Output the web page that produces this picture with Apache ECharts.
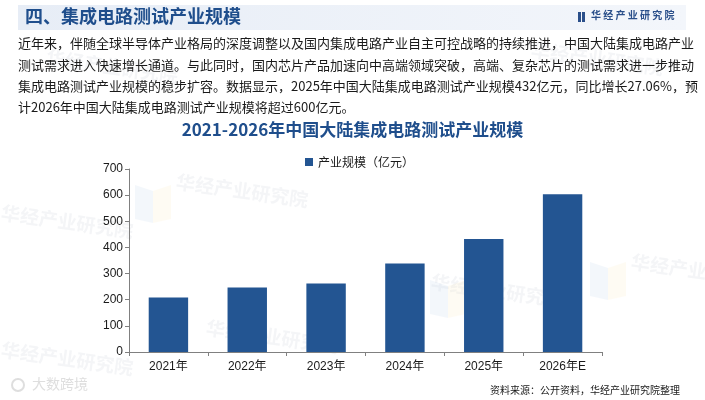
<!DOCTYPE html>
<html><head><meta charset="utf-8">
<script src="https://cdn.jsdelivr.net/npm/echarts@6/dist/echarts.min.js"></script>
<style>html,body{margin:0;padding:0;background:#fff}#c{width:705px;height:400px}</style>
</head><body><div id="c"></div>
<script>
const categories = ['2021年','2022年','2023年','2024年','2025年','2026年E'];
const values = [208, 247, 262, 339, 432, 603];
const seriesName = '产业规模（亿元）';
const yTicks = [0,100,200,300,400,500,600,700];
const pageTitle = '四、集成电路测试产业规模';
const chartTitle = '2021-2026年中国大陆集成电路测试产业规模';
const paragraphLines = [
 '近年来，伴随全球半导体产业格局的深度调整以及国内集成电路产业自主可控战略的持续推进，中国大陆集成电路产业',
 '测试需求进入快速增长通道。与此同时，国内芯片产品加速向中高端领域突破，高端、复杂芯片的测试需求进一步推动',
 '集成电路测试产业规模的稳步扩容。数据显示，2025年中国大陆集成电路测试产业规模432亿元，同比增长27.06%，预',
 '计2026年中国大陆集成电路测试产业规模将超过600亿元。'
];
const sourceText = '资料来源：公开资料，华经产业研究院整理';
const brand = '华经产业研究院';

const cjk = '"Noto Sans CJK SC", "Noto Sans", sans-serif';
const num = '"Liberation Sans", "Noto Sans CJK SC", sans-serif';
const chart = echarts.init(document.getElementById('c'));

const wm = [[175,172,-8],[0,203,-8],[205,318,-8],[0,340,-8],[430,272,-8],[630,252,-8],[530,40,-8],[45,48,-8]];
const wmGraphics = wm.map(p => ({type:'text', left:p[0], top:p[1], rotation:p[2]*Math.PI/180, z:-1,
  style:{text:brand, fill:'rgba(200,205,215,0.2)', font:'bold 19px '+cjk}}));
const wmLogos = [[135,185],[430,280],[590,262]].map(p=>({type:'group', left:p[0], top:p[1], z:-1, children:[
  {type:'polygon', shape:{points:[[0,0],[18,6],[18,38],[0,34]]}, style:{fill:'rgba(190,210,235,0.18)'}},
  {type:'polygon', shape:{points:[[18,6],[36,0],[36,34],[18,38]]}, style:{fill:'rgba(250,235,190,0.18)'}}
]}));

const graphics = [
  {type:'rect', left:18, top:5, shape:{width:668, height:25}, style:{fill:new echarts.graphic.LinearGradient(0,0,1,0,[{offset:0,color:'#e7edf6'},{offset:1,color:'#f3f6fb'}])}},
  {type:'text', left:25, top:7, style:{text:pageTitle, fill:'#1f4e8c', font:'bold 18px '+cjk}},
  {type:'rect', left:578, top:12, shape:{width:3, height:10}, style:{fill:'#2a4f8a'}},
  {type:'rect', left:582, top:12, shape:{width:3, height:10}, style:{fill:'#2a4f8a'}},
  {type:'text', left:591, top:10, style:{text:brand.split('').join(' '), fill:'#2a4f8a', font:'bold 10px '+cjk}},
  ...paragraphLines.map((t,i)=>({type:'text', left:18, top:37+i*21.3, style:{text:t, fill:'#1a1a1a', font:'13px '+cjk}})),
  {type:'text', left:'center', top:121, style:{text:chartTitle, fill:'#1f4e8c', font:'bold 17px '+cjk}},
  {type:'text', right:25, top:385, style:{text:sourceText, fill:'#1a1a1a', font:'10px '+cjk}},
  {type:'text', left:32, top:377, style:{text:'大数跨境', fill:'rgba(190,190,190,0.5)', font:'14px '+cjk}},
  {type:'circle', shape:{cx:18, cy:385, r:6}, style:{fill:'none', stroke:'rgba(190,190,190,0.5)', lineWidth:2}},
  ...wmGraphics, ...wmLogos
];

chart.setOption({
  animation:false,
  graphic: graphics,
  legend:{left:300, top:151, itemWidth:8, itemHeight:8, itemGap:4, icon:'rect',
    textStyle:{fontFamily:cjk, fontSize:12, color:'#1a1a1a'}, data:[seriesName]},
  grid:{left:129, right:103, top:169, bottom:48},
  xAxis:{type:'category', data:categories,
    axisLine:{lineStyle:{color:'#808080'}}, axisTick:{show:true, length:4, lineStyle:{color:'#808080'}},
    axisLabel:{fontFamily:num, fontSize:12, color:'#1a1a1a', margin:9}},
  yAxis:{type:'value', min:yTicks[0], max:yTicks[yTicks.length-1], interval:100,
    axisLine:{show:true, lineStyle:{color:'#808080'}}, axisTick:{show:true, length:4, lineStyle:{color:'#808080'}},
    splitLine:{show:false}, axisLabel:{fontFamily:num, fontSize:12, color:'#1a1a1a', margin:6}},
  series:[{name:seriesName, type:'bar', data:values, barWidth:'50%', itemStyle:{color:'#235592'}}]
});
</script></body></html>
